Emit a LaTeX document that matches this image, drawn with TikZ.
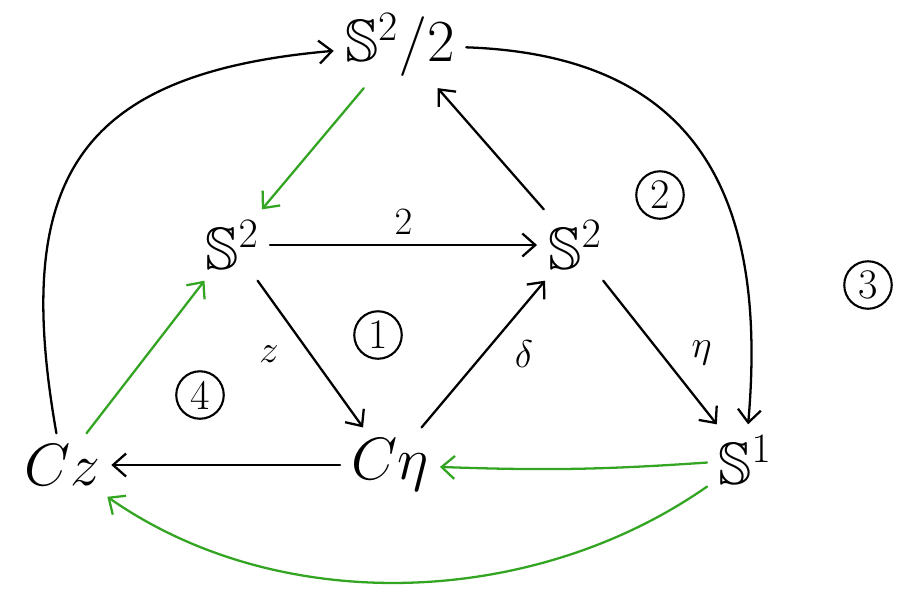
\documentclass[tikz,border=0pt]{standalone}
\usepackage{fix-cm}
\usepackage{amsmath,amssymb}
\usepackage{tikz}
\usetikzlibrary{arrows.meta}
\definecolor{hgreen}{RGB}{52,165,35}

\begin{document}
\begin{tikzpicture}[x=0.02cm,y=-0.02cm,
    >={Straight Barb[length=2.6mm,width=4.6mm]},
    obj/.style={font=\fontsize{34}{40}\selectfont,inner sep=0.22cm},
    lbl/.style={font=\fontsize{22}{26}\selectfont},
    blk/.style={->,line width=1.3pt,line cap=round},
    grn/.style={->,line width=1.3pt,line cap=round,draw=hgreen},
    num/.style={circle,draw,line width=1.2pt,minimum size=0.95cm,inner sep=0pt,font=\fontsize{24}{28}\selectfont}]
    \useasboundingbox (0,0) rectangle (916,603);
        \node [obj] (sqt) at (400,45) {$\mathbb{S}^2/2$};
        \node [obj] (sl) at (232,245) {$\mathbb{S}^2$};
        \node [obj] (sr) at (575,245) {$\mathbb{S}^2$};
        \node [obj] (cz) at (62,465) {$Cz$};
        \node [obj] (ceta) at (390,465) {$C\eta$};
        \node [obj] (sone) at (745,460) {$\mathbb{S}^1$};
    % the triangles
    \draw [blk] (sl) -- node [lbl,above=2pt] {$2$} (sr);
    \draw [blk] (sl) -- node [lbl,left=14pt] {$z$} (ceta);
    \draw [blk] (ceta) -- node [lbl,right=14pt] {$\delta$} (sr);
    \draw [blk] (sr) -- (sqt);
    \draw [blk] (sr) -- node [lbl,right=14pt] {$\eta$} (sone);
    \draw [blk] (ceta) -- (cz);
    \draw [blk] (cz) to [out=100,in=185,looseness=1.4] (sqt);
    \draw [blk] (sqt) to [out=-2,in=85,looseness=1.25] (sone);
    % green ones
    \draw [grn] (sqt) -- (sl);
    \draw [grn] (cz) -- (sl);
    \draw [grn] (sone) to [bend left=3] (ceta);
    \draw [grn] (sone) to [out=-145,in=-35,looseness=0.9] (cz);
    \foreach \p/\t in {{(378,335)}/1,{(660,195)}/2,{(868,285)}/3,{(200,395)}/4}
    {
    \node [num] at \p {\t};
    }
    \end{tikzpicture}
\end{document}
